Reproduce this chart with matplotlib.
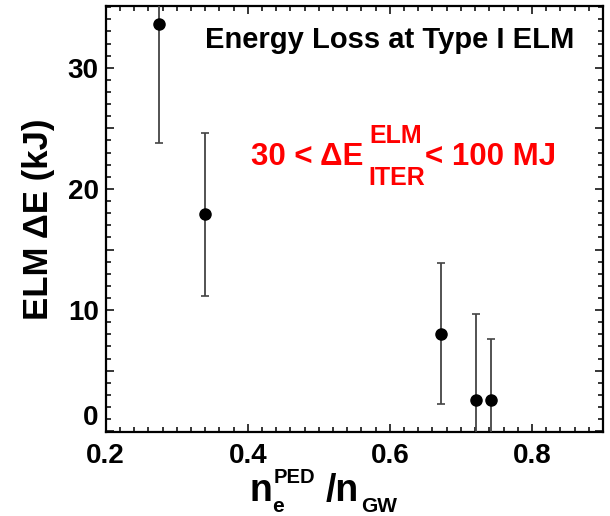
import matplotlib
matplotlib.use("Agg")
import matplotlib.pyplot as plt
from matplotlib.ticker import MultipleLocator

plt.rcParams['font.family'] = ['Liberation Sans', 'DejaVu Sans']
plt.rcParams['font.weight'] = 'bold'

# data
density = [0.275, 0.340, 0.672, 0.7215, 0.742]
elm_energy = [33.6, 17.9, 8.05, 2.6, 2.55]
elm_err = [9.8, 6.75, 5.8, 7.1, 5.1]

W, H = 610, 516
fig = plt.figure(figsize=(W / 100, H / 100), dpi=100)
ax = fig.add_axes([105.7 / W, 1 - 432 / H, (603 - 105.7) / W, (432 - 6) / H])

ax.errorbar(density, elm_energy, yerr=elm_err, fmt='o', color='black',
            ecolor='#444444', elinewidth=1.3, capsize=3, capthick=1.2,
            markersize=8, zorder=3)

ax.set_xlim(0.2, 0.9)
ax.set_ylim(-0.06, 35.1)
ax.xaxis.set_minor_locator(MultipleLocator(0.02))
ax.yaxis.set_minor_locator(MultipleLocator(1))
ax.set_yticks([0, 5, 10, 15, 20, 25, 30])
ax.set_yticklabels(['0', '', '10', '', '20', '', '30'])
ax.set_xticks([0.2, 0.4, 0.6, 0.8])
ax.set_xticklabels(['0.2', '0.4', '0.6', '0.8'])

ax.tick_params(which='both', direction='in', top=True, right=True, width=1.1)
ax.tick_params(which='major', length=6, labelsize=20)
ax.tick_params(which='minor', length=3.5)
ax.tick_params(axis='x', which='major', pad=8)
ax.tick_params(axis='y', which='major', pad=5)
for s in ax.spines.values():
    s.set_linewidth(1.6)
for lab in ax.get_xticklabels() + ax.get_yticklabels():
    lab.set_fontweight('bold')
# nudge the y "0" label up slightly so it does not collide with "0.2"
ax.get_yticklabels()[0].set_va('bottom')

# y label
fig.text(39 / W, 1 - 219 / H, 'ELM ΔE (kJ)', rotation=90, fontsize=25,
         fontweight='bold', ha='center', va='center')

# x label pieces
def ftxt(x, y, s, size, color='black', ha='left'):
    fig.text(x / W, 1 - y / H, s, fontsize=size, fontweight='bold',
             color=color, ha=ha, va='baseline')

ftxt(250, 501, 'n', 27)
ftxt(274, 483, 'PED', 14.5)
ftxt(272.5, 512, 'e', 15)
ftxt(326, 501, '/n', 27)
ftxt(361, 512, 'GW', 15)

# title inside axes
ftxt(205, 48.3, 'Energy Loss at Type I ELM', 21)

# red annotation
red = '#ff0000'
ftxt(251, 165, '30 < ΔE', 22.5, red)
ftxt(369, 142.7, 'ELM', 18, red)
ftxt(368, 185, 'ITER', 18, red)
ftxt(425, 165, '< 100 MJ', 22.5, red)

fig.savefig('out.png', dpi=100)
